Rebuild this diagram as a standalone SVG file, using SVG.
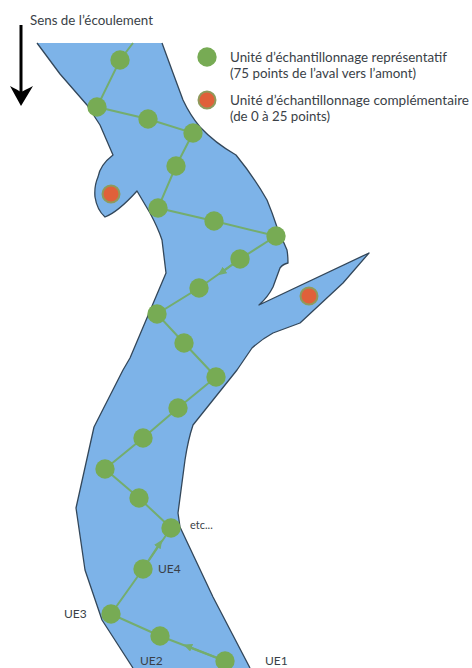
<svg xmlns="http://www.w3.org/2000/svg" width="472" height="668" viewBox="0 0 472 668">
<style>
text{font-family:"Lato","Open Sans",sans-serif;font-size:13px;fill:#3a3f47}
.g{fill:#77ab54}
.o{fill:#e0603a;stroke:#8f9a5c;stroke-width:2}
.l{fill:none;stroke:#74ad6e;stroke-width:2}
.b{fill:none;stroke:#33475a;stroke-width:1.3;stroke-linejoin:round}
</style>
<defs><marker id="a" markerWidth="10" markerHeight="10" refX="5" refY="4" orient="auto" markerUnits="userSpaceOnUse"><path d="M0 0L9 4L0 8Z" fill="#74ad6e"/></marker></defs>
<rect width="472" height="668" fill="#fff"/>
<path id="river" d="M37 43L60 74L87 105L100 125L113 155Q100 165 98 177Q94 186 95 197Q97 210 105 217Q118 212 137 191L150 213Q158 228 162 240L166 273L130 358L123 370L94 427L76 508L85 570L102 620L133 668H250L213 597L180 527L178 513L185 460Q188 440 193 425L213 400L237 370L252 348Q262 339 273 333L300 323L343 283L369 253L259 305Q268 297 273 287L280 268Q283 264 288 263Q288 256 287 250L277 227Q272 212 267 200Q254 177 236 155Q215 143 200 127Q190 115 183 100L173 73L162 43Z" fill="#7db3e8"/>
<path id="bankL" class="b" d="M37 43L60 74L87 105L100 125L113 155Q100 165 98 177Q94 186 95 197Q97 210 105 217Q118 212 137 191L150 213Q158 228 162 240L166 273L130 358L123 370L94 427L76 508L85 570L102 620L133 668"/>
<path id="bankR" class="b" d="M250 668L213 597L180 527L178 513L185 460Q188 440 193 425L213 400L237 370L252 348Q262 339 273 333L300 323L343 283L369 253L259 305Q268 297 273 287L280 268Q283 264 288 263Q288 256 287 250L277 227Q272 212 267 200Q254 177 236 155Q215 143 200 127Q190 115 183 100L173 73L162 43"/>
<g id="connectors" class="l">
<path class="l" d="M133 43L120 60L97 107L148 119L193 133L176 166L158 208L214 221L276 236L240 259L199 288L157 314L184 343L216 377L178 408L143 438L105 469L139 498L171 528L143 569L111 614L160 636L225 661"/>
<path class="l" marker-end="url(#a)" d="M240 259L221 273"/>
<path class="l" marker-end="url(#a)" d="M143 569L160 543"/>
<path class="l" marker-end="url(#a)" d="M225 661L187 646"/>
</g>
<g id="nodes">
<g id="u1"><circle class="g" cx="120" cy="60" r="9.7"/></g>
<g id="u2"><circle class="g" cx="97" cy="107" r="9.7"/></g>
<g id="u3"><circle class="g" cx="148" cy="119" r="9.7"/></g>
<g id="u4"><circle class="g" cx="193" cy="133" r="9.7"/></g>
<g id="u5"><circle class="g" cx="176" cy="166" r="9.7"/></g>
<g id="u6"><circle class="g" cx="158" cy="208" r="9.7"/></g>
<g id="u7"><circle class="g" cx="214" cy="221" r="9.7"/></g>
<g id="u8"><circle class="g" cx="276" cy="236" r="9.7"/></g>
<g id="u9"><circle class="g" cx="240" cy="259" r="9.7"/></g>
<g id="u10"><circle class="g" cx="199" cy="288" r="9.7"/></g>
<g id="u11"><circle class="g" cx="157" cy="314" r="9.7"/></g>
<g id="u12"><circle class="g" cx="184" cy="343" r="9.7"/></g>
<g id="u13"><circle class="g" cx="216" cy="377" r="9.7"/></g>
<g id="u14"><circle class="g" cx="178" cy="408" r="9.7"/></g>
<g id="u15"><circle class="g" cx="143" cy="438" r="9.7"/></g>
<g id="u16"><circle class="g" cx="105" cy="469" r="9.7"/></g>
<g id="u17"><circle class="g" cx="139" cy="498" r="9.7"/></g>
<g id="u18"><circle class="g" cx="171" cy="528" r="9.7"/></g>
<g id="u19"><circle class="g" cx="143" cy="569" r="9.7"/></g>
<g id="u20"><circle class="g" cx="111" cy="614" r="9.7"/></g>
<g id="u21"><circle class="g" cx="160" cy="636" r="9.7"/></g>
<g id="u22"><circle class="g" cx="225" cy="661" r="9.7"/></g>
<g id="c1"><circle class="o" cx="111" cy="194" r="8.5"/></g>
<g id="c2"><circle class="o" cx="309" cy="296" r="8.5"/></g>
</g>
<g id="labels">
<text x="158" y="573" style="font-size:12px">UE4</text>
<text x="64" y="618" style="font-size:12px">UE3</text>
<text x="140" y="665" style="font-size:12px">UE2</text>
<text x="265" y="665" style="font-size:12px">UE1</text>
<text x="190" y="529" style="font-size:11px">etc...</text>
</g>
<g id="flow">
<path d="M21 25V92" stroke="#000" stroke-width="3" fill="none"/>
<path d="M10 86Q18 90 21 92Q25 90 33 86L21 106Z" fill="#000"/>
<text x="30" y="25" textLength="123" lengthAdjust="spacingAndGlyphs">Sens de l’écoulement</text>
</g>
<g id="legend">
<circle class="g" cx="207" cy="57" r="9.7"/>
<circle class="o" cx="207" cy="100" r="8.5"/>
<text x="230" y="62" textLength="217" lengthAdjust="spacingAndGlyphs">Unité d’échantillonnage représentatif</text>
<text x="230" y="78" textLength="186" lengthAdjust="spacingAndGlyphs">(75 points de l’aval vers l’amont)</text>
<text x="230" y="105" textLength="239" lengthAdjust="spacingAndGlyphs">Unité d’échantillonnage complémentaire</text>
<text x="230" y="121" textLength="100" lengthAdjust="spacingAndGlyphs">(de 0 à 25 points)</text>
</g>
</svg>
